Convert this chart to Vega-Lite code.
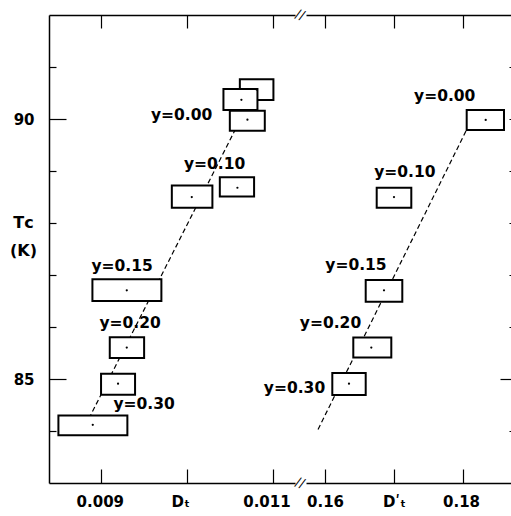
{
  "$schema": "https://vega.github.io/schema/vega-lite/v6.json",
  "padding": {"left": 9, "top": 7, "right": 0, "bottom": 0},
  "background": "white",
  "bounds": "flush",
  "spacing": 11,
  "config": {
    "view": {"stroke": null},
    "font": "DejaVu Sans",
    "axis": {"grid": false, "domainColor": "black", "domainWidth": 1.5, "tickColor": "black", "tickWidth": 1.2, "labelColor": "black", "labelFont": "DejaVu Sans", "labelFontWeight": "bold", "labelFontSize": 15, "title": null}
  },
  "datasets": {
    "leftFit": [{"Dt": 0.00882, "Tc": 84.1}, {"Dt": 0.01062, "Tc": 90.0}],
    "rightFit": [{"Dt": 0.15899, "Tc": 84.03}, {"Dt": 0.1813, "Tc": 90.0}],
    "leftBoxes": [
      {"Dt": 0.010805, "Dt_lo": 0.010611, "Dt_hi": 0.011, "Tc": 90.565, "Tc_lo": 90.364, "Tc_hi": 90.766},
      {"Dt": 0.010629, "Dt_lo": 0.010421, "Dt_hi": 0.010815, "Tc": 90.37, "Tc_lo": 90.172, "Tc_hi": 90.575},
      {"Dt": 0.010699, "Dt_lo": 0.010495, "Dt_hi": 0.0109, "Tc": 89.987, "Tc_lo": 89.776, "Tc_hi": 90.159},
      {"Dt": 0.010583, "Dt_lo": 0.010379, "Dt_hi": 0.010776, "Tc": 88.678, "Tc_lo": 88.511, "Tc_hi": 88.881},
      {"Dt": 0.010054, "Dt_lo": 0.009823, "Dt_hi": 0.010293, "Tc": 88.498, "Tc_lo": 88.295, "Tc_hi": 88.722},
      {"Dt": 0.009301, "Dt_lo": 0.008903, "Dt_hi": 0.009702, "Tc": 86.705, "Tc_lo": 86.5, "Tc_hi": 86.916},
      {"Dt": 0.009301, "Dt_lo": 0.009104, "Dt_hi": 0.009502, "Tc": 85.605, "Tc_lo": 85.402, "Tc_hi": 85.805},
      {"Dt": 0.0092, "Dt_lo": 0.009003, "Dt_hi": 0.009397, "Tc": 84.91, "Tc_lo": 84.699, "Tc_hi": 85.101},
      {"Dt": 0.008907, "Dt_lo": 0.008509, "Dt_hi": 0.009308, "Tc": 84.119, "Tc_lo": 83.92, "Tc_hi": 84.297}
    ],
    "rightBoxes": [
      {"Dt": 0.18329, "Dt_lo": 0.180536, "Dt_hi": 0.185942, "Tc": 89.981, "Tc_lo": 89.789, "Tc_hi": 90.172},
      {"Dt": 0.17, "Dt_lo": 0.167493, "Dt_hi": 0.172507, "Tc": 88.498, "Tc_lo": 88.295, "Tc_hi": 88.678},
      {"Dt": 0.168551, "Dt_lo": 0.165899, "Dt_hi": 0.171203, "Tc": 86.705, "Tc_lo": 86.487, "Tc_hi": 86.902},
      {"Dt": 0.16671, "Dt_lo": 0.164101, "Dt_hi": 0.169609, "Tc": 85.605, "Tc_lo": 85.414, "Tc_hi": 85.797},
      {"Dt": 0.163478, "Dt_lo": 0.161058, "Dt_hi": 0.165899, "Tc": 84.91, "Tc_lo": 84.693, "Tc_hi": 85.115}
    ],
    "leftLabels": [
      {"Dt": 0.009936, "Tc": 90.08, "label": "y=0.00"},
      {"Dt": 0.010319, "Tc": 89.14, "label": "y=0.10"},
      {"Dt": 0.009247, "Tc": 87.18, "label": "y=0.15"},
      {"Dt": 0.00934, "Tc": 86.08, "label": "y=0.20"},
      {"Dt": 0.009502, "Tc": 84.52, "label": "y=0.30"}
    ],
    "rightLabels": [
      {"Dt": 0.17735, "Tc": 90.45, "label": "y=0.00"},
      {"Dt": 0.17157, "Tc": 88.98, "label": "y=0.10"},
      {"Dt": 0.16449, "Tc": 87.19, "label": "y=0.15"},
      {"Dt": 0.1608, "Tc": 86.08, "label": "y=0.20"},
      {"Dt": 0.15558, "Tc": 84.83, "label": "y=0.30"}
    ],
    "breaks": [{"Dt": 0.011308, "Tc": 83}, {"Dt": 0.011308, "Tc": 92}]
  },
  "hconcat": [
    {
      "width": 246,
      "height": 468,
      "layer": [
        {
          "data": {"name": "leftFit"},
          "mark": {"type": "line", "color": "black", "strokeWidth": 1.2, "strokeDash": [5, 3]},
          "encoding": {
            "x": {"field": "Dt", "type": "quantitative", "scale": {"domain": [0.0084, 0.01125], "zero": false, "nice": false},
              "axis": {"orient": "bottom", "values": [0.009, 0.01, 0.011], "labelExpr": "abs(datum.value - 0.01) < 1e-6 ? 'Dₜ' : format(datum.value, '.3f')", "tickSize": -14, "labelPadding": 25,
                "labelOffset": {"condition": {"test": "datum.value > 0.0095", "value": -7}, "value": -1}}},
            "y": {"field": "Tc", "type": "quantitative", "scale": {"domain": [83, 92], "zero": false, "nice": false},
              "axis": {"orient": "left", "values": [84, 85, 86, 87, 88, 89, 90, 91], "labelExpr": "datum.value % 5 === 0 ? datum.label : ''",
                "tickSize": {"condition": {"test": "datum.value % 5 === 0", "value": -17}, "value": -7}, "labelPadding": 32,
                "title": ["Tᴄ", "(K)"], "titleAngle": 0, "titleX": -26, "titleY": 207, "titleAlign": "center", "titleBaseline": "middle",
                "titleFont": "DejaVu Sans", "titleFontSize": 16, "titleFontWeight": "bold", "titleColor": "black", "titleLineHeight": 28}}
          }
        },
        {
          "data": {"name": "leftBoxes"},
          "mark": {"type": "rect", "fill": "white", "stroke": "black", "strokeWidth": 2},
          "encoding": {
            "x": {"field": "Dt_lo", "type": "quantitative", "axis": {"orient": "top", "values": [0.009, 0.01, 0.011], "labels": false, "tickSize": -13}},
            "x2": {"field": "Dt_hi"},
            "y": {"field": "Tc_lo", "type": "quantitative", "axis": null},
            "y2": {"field": "Tc_hi"}
          }
        },
        {
          "data": {"name": "leftBoxes"},
          "mark": {"type": "point", "filled": true, "color": "black", "size": 5, "opacity": 1},
          "encoding": {
            "x": {"field": "Dt", "type": "quantitative", "axis": null},
            "y": {"field": "Tc", "type": "quantitative", "axis": null}
          }
        },
        {
          "data": {"name": "leftLabels"},
          "mark": {"type": "text", "font": "DejaVu Sans", "fontWeight": "bold", "fontSize": 15.5, "color": "black", "align": "center", "baseline": "middle"},
          "encoding": {
            "x": {"field": "Dt", "type": "quantitative", "axis": null},
            "y": {"field": "Tc", "type": "quantitative", "axis": null},
            "text": {"field": "label"}
          }
        },
        {
          "data": {"name": "breaks"},
          "mark": {"type": "text", "font": "DejaVu Sans", "fontSize": 13, "color": "black", "align": "center", "baseline": "middle", "text": "//", "angle": 20},
          "encoding": {
            "x": {"field": "Dt", "type": "quantitative", "axis": null},
            "y": {"field": "Tc", "type": "quantitative", "axis": null}
          }
        }
      ],
      "resolve": {"axis": {"x": "independent", "y": "independent"}}
    },
    {
      "width": 207,
      "height": 468,
      "layer": [
        {
          "data": {"name": "rightFit"},
          "mark": {"type": "line", "color": "black", "strokeWidth": 1.2, "strokeDash": [5, 3]},
          "encoding": {
            "x": {"field": "Dt", "type": "quantitative", "scale": {"domain": [0.157246, 0.187247], "zero": false, "nice": false},
              "axis": {"orient": "bottom", "values": [0.16, 0.17, 0.18], "labelExpr": "abs(datum.value - 0.17) < 1e-6 ? 'Dʹₜ' : format(datum.value, '.2f')", "tickSize": -14, "labelPadding": 25,
                "labelOffset": {"condition": {"test": "datum.value > 0.175", "value": -2}, "value": 0}}},
            "y": {"field": "Tc", "type": "quantitative", "scale": {"domain": [83, 92], "zero": false, "nice": false},
              "axis": {"orient": "right", "values": [84, 85, 86, 87, 88, 89, 90, 91], "labels": false, "domain": false,
                "tickSize": {"condition": {"test": "datum.value === 85", "value": -13}, "value": -4}}}
          }
        },
        {
          "data": {"name": "rightBoxes"},
          "mark": {"type": "rect", "fill": "white", "stroke": "black", "strokeWidth": 2},
          "encoding": {
            "x": {"field": "Dt_lo", "type": "quantitative", "axis": {"orient": "top", "values": [0.16, 0.17, 0.18], "labels": false, "tickSize": -13}},
            "x2": {"field": "Dt_hi"},
            "y": {"field": "Tc_lo", "type": "quantitative", "axis": null},
            "y2": {"field": "Tc_hi"}
          }
        },
        {
          "data": {"name": "rightBoxes"},
          "mark": {"type": "point", "filled": true, "color": "black", "size": 5, "opacity": 1},
          "encoding": {
            "x": {"field": "Dt", "type": "quantitative", "axis": null},
            "y": {"field": "Tc", "type": "quantitative", "axis": null}
          }
        },
        {
          "data": {"name": "rightLabels"},
          "mark": {"type": "text", "font": "DejaVu Sans", "fontWeight": "bold", "fontSize": 15.5, "color": "black", "align": "center", "baseline": "middle"},
          "encoding": {
            "x": {"field": "Dt", "type": "quantitative", "axis": null},
            "y": {"field": "Tc", "type": "quantitative", "axis": null},
            "text": {"field": "label"}
          }
        }
      ],
      "resolve": {"axis": {"x": "independent", "y": "independent"}}
    }
  ]
}
